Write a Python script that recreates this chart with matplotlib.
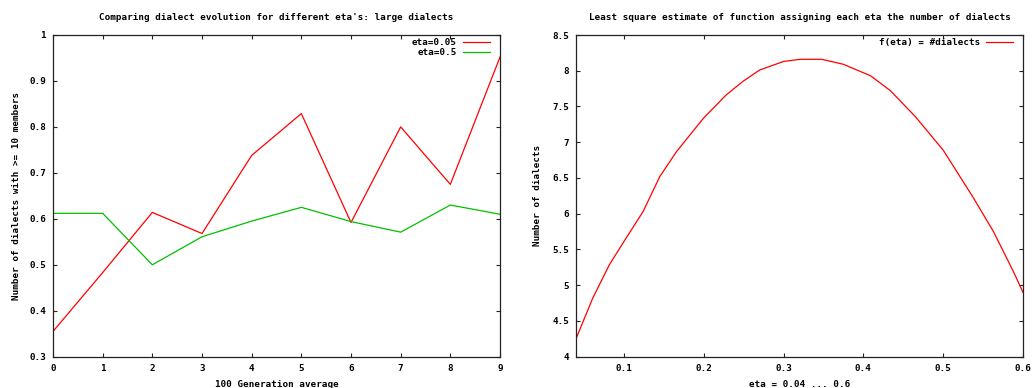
import matplotlib
matplotlib.use("Agg")
import matplotlib.pyplot as plt
from matplotlib.ticker import FormatStrFormatter

# large dialect counts per 100-generation window
generations = [0, 1, 2, 3, 4, 5, 6, 7, 8, 9]
eta_005 = [0.355, 0.483, 0.614, 0.568, 0.738, 0.829, 0.592, 0.800, 0.675, 0.952]
eta_05 = [0.612, 0.612, 0.500, 0.561, 0.595, 0.625, 0.594, 0.571, 0.630, 0.610]

# least square fit, sampled along eta
eta_vals = [0.04, 0.061, 0.082, 0.10, 0.124, 0.145, 0.166, 0.20, 0.228, 0.249,
            0.27, 0.30, 0.321, 0.348, 0.375, 0.409, 0.434, 0.465, 0.50, 0.538,
            0.563, 0.588, 0.60]
n_dialects = [4.25, 4.82, 5.29, 5.61, 6.03, 6.52, 6.87, 7.34, 7.66, 7.85,
              8.01, 8.13, 8.16, 8.16, 8.09, 7.93, 7.72, 7.36, 6.89, 6.22,
              5.75, 5.19, 4.90]

FONT = "DejaVu Sans Mono"
FS = 6.7
RED = "#ff0000"
GREEN = "#00c000"

plt.rcParams["font.family"] = FONT
plt.rcParams["font.weight"] = "bold"
plt.rcParams["font.size"] = FS

W, H = 1032, 388
fig = plt.figure(figsize=(W / 100, H / 100), dpi=100)
ax1 = fig.add_axes([53 / W, 1 - 356.7 / H, 447 / W, 321.7 / H])
ax2 = fig.add_axes([576 / W, 1 - 356.7 / H, 447 / W, 321.7 / H])


def style(ax):
    for s in ax.spines.values():
        s.set_linewidth(0.9)
        s.set_color("#222222")
    ax.tick_params(direction="in", length=3, width=0.8, top=True, right=True,
                   labelsize=FS, pad=5, colors="#222222")
    for lab in ax.get_xticklabels() + ax.get_yticklabels():
        lab.set_fontweight("bold")
        lab.set_color("black")


ax1.plot(generations, eta_005, color=RED, lw=0.9, label="eta=0.05")
ax1.plot(generations, eta_05, color=GREEN, lw=0.9, label="eta=0.5")
ax1.set_xlim(0, 9)
ax1.set_ylim(0.3, 1)
ax1.set_xticks(generations)
ax1.set_yticks([0.3, 0.4, 0.5, 0.6, 0.7, 0.8, 0.9, 1.0])
ax1.yaxis.set_major_formatter(FormatStrFormatter("%g"))
ax1.set_title("Comparing dialect evolution for different eta's: large dialects",
              fontsize=FS, fontweight="bold", pad=11)
ax1.set_xlabel("100 Generation average", fontsize=FS, fontweight="bold", labelpad=5)
ax1.set_ylabel("Number of dialects with >= 10 members", fontsize=FS,
               fontweight="bold", labelpad=6)
style(ax1)
ax1.legend(loc="upper right", bbox_to_anchor=(1 - 10 / 447, 1 - 3 / 321.7),
           frameon=False, borderpad=0, borderaxespad=0, markerfirst=False,
           handlelength=2.9, handletextpad=0.65, labelspacing=0.1,
           prop={"family": FONT, "weight": "bold", "size": FS})

ax2.plot(eta_vals, n_dialects, color=RED, lw=0.9, label="f(eta) = #dialects")
ax2.set_xlim(0.04, 0.6)
ax2.set_ylim(4, 8.5)
ax2.set_xticks([0.1, 0.2, 0.3, 0.4, 0.5, 0.6])
ax2.set_yticks([4, 4.5, 5, 5.5, 6, 6.5, 7, 7.5, 8, 8.5])
ax2.xaxis.set_major_formatter(FormatStrFormatter("%g"))
ax2.yaxis.set_major_formatter(FormatStrFormatter("%g"))
ax2.set_title("Least square estimate of function assigning each eta the number of dialects",
              fontsize=FS, fontweight="bold", pad=11)
ax2.set_xlabel("eta = 0.04 ... 0.6", fontsize=FS, fontweight="bold", labelpad=5)
ax2.set_ylabel("Number of dialects", fontsize=FS, fontweight="bold", labelpad=7)
style(ax2)
ax2.legend(loc="upper right", bbox_to_anchor=(1 - 10 / 447, 1 - 3 / 321.7),
           frameon=False, borderpad=0, borderaxespad=0, markerfirst=False,
           handlelength=2.9, handletextpad=0.65,
           prop={"family": FONT, "weight": "bold", "size": FS})

fig.savefig("out.png", dpi=100)
